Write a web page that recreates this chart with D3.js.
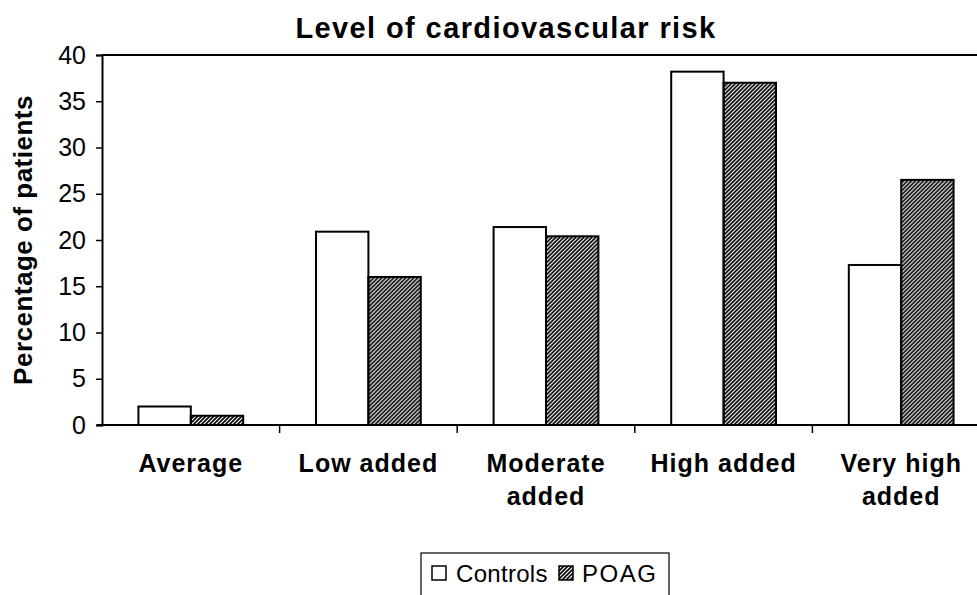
<!DOCTYPE html>
<html lang="en">
<head>
    <meta charset="UTF-8">
    <script src="https://d3js.org/d3.v7.min.js"></script>
    <title>Level of cardiovascular risk</title>
    <style>
        body { margin: 0; background: #fff; }
        text { font-family: "Liberation Sans", Arial, sans-serif; }
    </style>
</head>
<body>
    <script>
        // Data
        const categories = ["Average", "Low added", "Moderate added", "High added", "Very high added"];
        const categoryLines = [["Average"], ["Low added"], ["Moderate", "added"], ["High added"], ["Very high", "added"]];
        const series = ["Controls", "POAG"];
        const controls = [2.0, 20.9, 21.4, 38.2, 17.3];
        const poag = [1.0, 16.0, 20.4, 37.0, 26.5];
        const yTicks = [0, 5, 10, 15, 20, 25, 30, 35, 40];

        const width = 977, height = 595;
        const plotLeft = 102, plotRight = 990, plotTop = 55, plotBottom = 425;

        const svg = d3.select("body").append("svg")
            .attr("width", width)
            .attr("height", height);

        // Hatch pattern for POAG
        const defs = svg.append("defs");
        defs.append("pattern")
            .attr("id", "hatch")
            .attr("patternUnits", "userSpaceOnUse")
            .attr("width", 4)
            .attr("height", 4)
            .append("path")
            .attr("d", "M-1,1 l2,-2 M0,4 l4,-4 M3,5 l2,-2")
            .attr("stroke", "#000")
            .attr("stroke-width", 1.6);

        const x = d3.scaleBand().domain(categories).range([plotLeft, plotRight]);
        const xs = d3.scaleBand().domain(series)
            .range([x.bandwidth() * 0.205, x.bandwidth() * 0.795]);
        const y = d3.scaleLinear().domain([0, 40]).range([plotBottom, plotTop]);

        const fills = { Controls: "#fff", POAG: "url(#hatch)" };
        const values = { Controls: controls, POAG: poag };

        // Bars
        const groups = svg.selectAll("g.cat")
            .data(categories)
            .enter().append("g")
            .attr("class", "cat")
            .attr("transform", d => `translate(${x(d)},0)`);

        groups.selectAll("rect")
            .data((d, i) => series.map(s => ({ s, v: values[s][i] })))
            .enter().append("rect")
            .attr("x", d => xs(d.s))
            .attr("y", d => y(d.v))
            .attr("width", xs.bandwidth())
            .attr("height", d => plotBottom - y(d.v))
            .attr("fill", d => fills[d.s])
            .attr("stroke", "#000")
            .attr("stroke-width", 2);

        // Plot frame top
        svg.append("line")
            .attr("x1", plotLeft).attr("x2", plotRight)
            .attr("y1", plotTop).attr("y2", plotTop)
            .attr("stroke", "#000").attr("stroke-width", 2);

        // Y axis
        const yAxis = svg.append("g")
            .attr("transform", `translate(${plotLeft},0)`)
            .call(d3.axisLeft(y).tickValues(yTicks).tickSize(6).tickPadding(10));
        yAxis.select(".domain").attr("stroke-width", 2);
        yAxis.selectAll(".tick line").attr("stroke-width", 1.5);
        yAxis.selectAll("text")
            .attr("font-size", 25)
            .attr("fill", "#000")
            .style("font-family", "'Liberation Sans', Arial, sans-serif");

        // X axis
        const xAxis = svg.append("g")
            .attr("transform", `translate(0,${plotBottom})`);
        xAxis.append("line")
            .attr("x1", plotLeft - 5).attr("x2", plotRight)
            .attr("stroke", "#000").attr("stroke-width", 2);
        xAxis.selectAll("line.tick")
            .data(categories.slice(1))
            .enter().append("line")
            .attr("class", "tick")
            .attr("x1", d => x(d)).attr("x2", d => x(d))
            .attr("y1", 0).attr("y2", 8)
            .attr("stroke", "#000").attr("stroke-width", 1.5);

        const labels = xAxis.selectAll("text.cat")
            .data(categories)
            .enter().append("text")
            .attr("class", "cat")
            .attr("text-anchor", "middle")
            .attr("font-size", 25)
            .attr("font-weight", "bold")
            .attr("letter-spacing", 1)
            .attr("transform", d => `translate(${x(d) + x.bandwidth() / 2},47)`);
        labels.selectAll("tspan")
            .data((d, i) => categoryLines[i])
            .enter().append("tspan")
            .attr("x", 0)
            .attr("dy", (d, i) => i === 0 ? 0 : 33)
            .text(d => d);

        // Title
        svg.append("text")
            .attr("x", 506).attr("y", 38)
            .attr("text-anchor", "middle")
            .attr("font-size", 29)
            .attr("font-weight", "bold")
            .attr("letter-spacing", 1.4)
            .text("Level of cardiovascular risk");

        // Y axis title
        svg.append("text")
            .attr("transform", `translate(32,240) rotate(-90)`)
            .attr("text-anchor", "middle")
            .attr("font-size", 26)
            .attr("font-weight", "bold")
            .attr("letter-spacing", 0.5)
            .text("Percentage of patients");

        // Legend
        const legend = svg.append("g").attr("transform", "translate(421,553)");
        legend.append("rect")
            .attr("width", 248).attr("height", 50)
            .attr("fill", "#fff").attr("stroke", "#000").attr("stroke-width", 1.2);
        const items = [{ s: "Controls", x: 11, tx: 35 }, { s: "POAG", x: 138, tx: 161 }];
        items.forEach(it => {
            legend.append("rect")
                .attr("x", it.x).attr("y", 13)
                .attr("width", 14).attr("height", 14)
                .attr("fill", fills[it.s])
                .attr("stroke", "#000").attr("stroke-width", 1.5);
            legend.append("text")
                .attr("x", it.tx).attr("y", 29)
                .attr("font-size", 24)
                .attr("letter-spacing", it.s === "POAG" ? 1.5 : 0.3)
                .text(it.s);
        });
    </script>
</body>
</html>
